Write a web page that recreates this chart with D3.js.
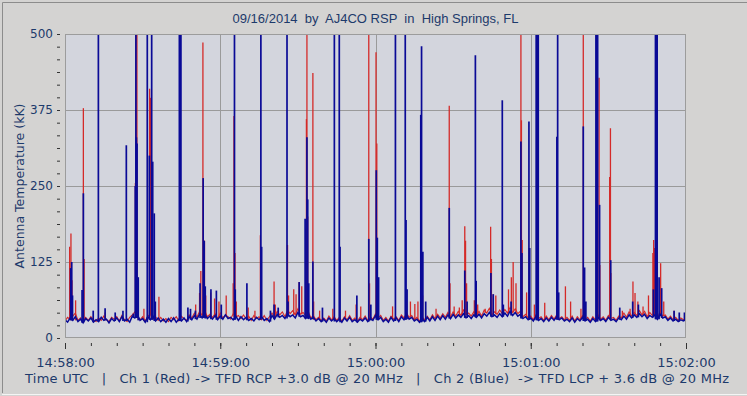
<!DOCTYPE html>
<html>
<head>
<meta charset="utf-8">
<script src="https://cdn.jsdelivr.net/npm/d3@7"></script>
<style>
  body { margin: 0; background: #d4d3d2; }
  svg { display: block; }
</style>
</head>
<body>
<div id="chart"></div>
<script>
'use strict';

var titleText = '09/16/2014  by  AJ4CO RSP  in  High Springs, FL';
var yLabelText = 'Antenna Temperature (kK)';
var footText = 'Time UTC   |   Ch 1 (Red) -> TFD RCP +3.0 dB @ 20 MHz   |   Ch 2 (Blue)  -> TFD LCP + 3.6 dB @ 20 MHz';

// seconds after 14:58:00 UTC
var xTicks = [0, 60, 120, 180, 240];
var xTickLabels = ['14:58:00', '14:59:00', '15:00:00', '15:01:00', '15:02:00'];
var yTicks = [0, 125, 250, 375, 500];

// background level, one reading per second (kK)
var redBase = [
  28,34,30,36,41,29,33,27,34,29,35,30,27,33,29,36,30,27,34,31,
  35,28,37,30,27,34,38,43,36,30,35,28,36,39,31,35,29,34,28,32,
  27,34,30,35,28,36,31,29,38,33,41,34,44,37,45,35,39,34,40,32,
  41,33,38,35,31,40,34,37,32,38,31,36,29,37,32,35,30,37,29,35,
  41,34,44,38,43,35,46,40,45,38,48,39,42,37,44,33,37,30,34,29,
  33,28,36,30,35,29,34,28,35,30,37,29,33,28,34,30,36,29,35,31,
  40,33,37,29,34,28,36,31,35,29,38,33,41,34,37,30,34,28,35,30,
  36,30,38,32,39,33,40,34,42,35,43,36,44,37,46,38,41,36,43,37,
  44,36,46,41,49,38,43,39,46,40,47,41,50,42,48,40,44,35,39,33,
  36,30,38,32,35,29,36,30,37,31,38,32,35,30,34,29,36,28,35,30,
  37,30,34,28,35,30,38,31,35,29,37,32,34,29,36,33,41,34,43,36,
  42,37,45,38,44,35,42,37,41,34,43,36,38,31,36,30,34,29,33,30,
  32
];
var blueBase = [
  30,26,33,29,35,27,31,25,32,28,33,26,30,27,34,29,31,25,32,28,
  33,27,35,28,31,26,36,33,38,29,32,26,35,30,36,28,33,27,31,26,
  32,27,33,26,31,28,33,27,35,30,37,31,39,33,40,32,36,31,37,30,
  36,31,38,32,34,30,36,29,35,30,34,29,32,28,34,30,35,29,32,27,
  37,31,39,34,37,32,40,35,38,33,42,35,37,32,39,31,34,28,32,27,
  31,26,33,28,32,27,31,26,33,28,34,27,30,26,31,28,33,27,32,29,
  37,30,34,27,31,26,34,28,33,27,35,30,38,31,34,28,31,26,32,27,
  34,28,35,29,36,30,37,31,38,32,39,33,38,34,40,33,37,32,38,34,
  39,33,40,36,42,35,38,34,40,35,41,36,44,37,42,36,39,32,35,30,
  33,28,35,29,32,27,33,28,34,29,35,30,33,28,31,27,33,26,32,28,
  34,28,31,26,32,27,34,29,32,27,34,29,31,27,33,30,36,31,38,33,
  38,34,40,35,39,32,37,34,38,31,39,33,35,29,33,28,31,27,30,28,
  30
];

// bursts [second, kK]; values past 500 run off the top of the plot
var redPeaks = [
  [1.8,150],[2.3,172],[2.7,95],[4.1,62],[7.1,378],[7.4,130],[15.5,42],
  [27.2,255],[27.5,620],[27.8,620],[28.3,90],[30.5,48],
  [32.7,410],[33.0,395],[33.3,120],[36.3,68],
  [50.5,55],[52.0,74],[52.5,110],[53.3,486],[53.6,160],[53.9,160],[54.4,70],
  [56.3,75],[57.8,65],[59.5,60],[62.3,70],[65.0,90],[65.3,365],[65.7,140],[66.2,60],
  [70.8,50],[73.4,45],[75.5,169],[75.9,80],
  [80.8,93],[81.3,55],[86.0,153],[86.4,70],[88.4,80],[89.3,72],[90.5,92],[91.5,85],
  [93.0,180],[93.3,360],[93.5,620],[93.8,200],[95.8,436],[96.1,60],[98.4,45],
  [103.5,48],[108.4,45],[112.5,55],[114.3,52],[117.4,620],[117.7,90],
  [120.2,470],[120.5,320],[120.8,80],
  [126.6,52],[133.5,60],[135.2,56],[136.4,60],[138.2,70],[143.4,48],
  [148.5,382],[148.8,90],[150.4,52],[152.4,50],[153.5,62],[154.5,184],[154.8,160],[155.2,90],
  [158.2,62],[159.5,55],[162.4,48],[164.5,183],[164.8,130],[165.5,72],[166.5,70],
  [171.4,80],[172.5,100],[173.2,125],[174.3,90],[176.2,620],[176.4,358],[176.7,161],
  [178.4,75],[179.4,148],[181.4,55],[185.4,58],[193.4,85],[195.4,60],[199.4,48],
  [200.3,620],[200.7,90],[205.5,85],[206.4,428],[206.7,120],
  [210.5,265],[210.8,345],[210.95,107],[215.4,45],[218.4,48],[219.5,93],[220.3,74],
  [221.4,60],[223.4,52],[225.5,70],[227.2,140],[227.5,161],[227.85,148],
  [230.2,123],[231.4,60],[235.4,45]
];
var bluePeaks = [
  [2.2,115],[2.6,125],[2.9,70],[6.6,79],[7.1,238],[10.9,45],[12.9,620],[15.5,49],
  [19.4,42],[22.4,45],[23.7,317],[26.4,40],
  [27.15,250],[27.4,620],[27.6,330],[27.85,320],[28.3,100],
  [31.8,620],[32.6,300],[33.5,620],[33.9,290],[34.5,205],[34.9,60],
  [44.2,620],[44.5,620],[44.8,620],
  [47.5,50],[48.5,48],[50.4,45],[52.2,90],[53.4,263],[53.8,160],[54.2,85],[56.4,80],
  [58.5,78],[60.4,55],[65.5,620],[65.8,80],[70.3,90],[75.7,620],[76.0,150],[79.4,45],
  [80.8,55],[82.4,50],[85.8,620],[86.2,60],[90.5,92],[92.8,196],[93.5,330],[93.8,228],
  [94.2,90],[95.8,126],[99.5,50],[104.1,620],[106.0,620],[106.3,150],[112.8,70],
  [117.4,163],[118.2,55],[120.3,276],[120.7,165],[121.2,100],
  [127.7,620],[131.5,620],[131.8,194],[132.2,80],[137.5,367],[137.8,480],[138.3,142],
  [139.4,60],[148.5,214],[154.5,111],[155.4,60],[158.6,465],[158.9,94],
  [164.6,107],[165.5,72],[169.0,391],[169.4,55],[172.4,60],[176.2,323],[176.6,140],
  [179.3,356],[179.6,148],[182.1,620],[182.5,620],[182.9,620],
  [190.1,331],[190.4,620],[190.8,75],[200.3,348],[200.8,116],[201.3,60],
  [205.2,620],[205.5,620],[205.85,620],[206.6,219],[210.9,128],[214.4,50],
  [219.4,60],[221.6,55],[227.4,80],[228.2,620],[228.5,620],[228.85,620],
  [229.6,100],[230.6,82],[235.4,45],[237.4,42],[239.4,42]
];

var width = 747;
var height = 396;
var area = { left: 65, top: 34, right: 686, bottom: 338 };
var textColor = '#1d3a6b';

var svg = d3.select('#chart')
.append('svg')
  .attr('width', width)
  .attr('height', height);

svg.append('rect')
  .attr('width', width)
  .attr('height', height)
  .attr('fill', '#d4d3d2');

// window frame
svg.append('path')
  .attr('d', 'M2.5,393V2.5H747')
  .attr('fill', 'none')
  .attr('stroke', '#8c8c8c');
svg.append('path')
  .attr('d', 'M2,394.5H747')
  .attr('stroke', '#f4f4f4');

var x = d3.scaleLinear()
  .domain([0, 240])
  .range([area.left, area.right]);

var y = d3.scaleLinear()
  .domain([0, 500])
  .range([area.bottom, area.top]);

svg.append('rect')
  .attr('x', area.left)
  .attr('y', area.top)
  .attr('width', area.right - area.left)
  .attr('height', area.bottom - area.top)
  .attr('fill', '#d3d5dd');

// grid
svg.append('g')
  .selectAll('line')
  .data(yTicks.slice(1, -1))
  .enter().append('line')
    .attr('x1', area.left)
    .attr('x2', area.right)
    .attr('y1', function(d) { return Math.round(y(d)) + 0.5; })
    .attr('y2', function(d) { return Math.round(y(d)) + 0.5; })
    .attr('stroke', '#9a9a9a');

svg.append('g')
  .selectAll('line')
  .data(xTicks.slice(1, -1))
  .enter().append('line')
    .attr('x1', function(d) { return Math.round(x(d)) + 0.5; })
    .attr('x2', function(d) { return Math.round(x(d)) + 0.5; })
    .attr('y1', area.top)
    .attr('y2', area.bottom)
    .attr('stroke', '#9a9a9a');

svg.append('clipPath')
  .attr('id', 'plotClip')
.append('rect')
  .attr('x', area.left)
  .attr('y', area.top)
  .attr('width', area.right - area.left)
  .attr('height', area.bottom - area.top);

var lineGen = d3.line()
  .x(function(d, i) { return x(i); })
  .y(function(d) { return y(d); });

var plot = svg.append('g')
  .attr('clip-path', 'url(#plotClip)');

// a channel = background trace + a thin stem for every burst sample
function drawChannel(base, peaks, color, lw) {
  plot.append('path')
    .datum(base)
    .attr('fill', 'none')
    .attr('stroke', color)
    .attr('stroke-width', lw)
    .attr('d', lineGen);

  plot.append('g')
  .selectAll('line')
  .data(peaks)
  .enter().append('line')
    .attr('x1', function(d) { return x(d[0]); })
    .attr('x2', function(d) { return x(d[0]); })
    .attr('y1', function(d) {
      var lo = Math.min(base[Math.floor(d[0])], base[Math.ceil(d[0])]);
      return y(lo);
    })
    .attr('y2', function(d) { return y(d[1]); })
    .attr('stroke', color)
    .attr('stroke-width', lw + 0.2);
}

drawChannel(redBase, redPeaks, '#d42a28', 1.1);
drawChannel(blueBase, bluePeaks, '#0a0a96', 1.5);

svg.append('rect')
  .attr('x', area.left + 0.5)
  .attr('y', area.top + 0.5)
  .attr('width', area.right - area.left - 1)
  .attr('height', area.bottom - area.top - 1)
  .attr('fill', 'none')
  .attr('stroke', '#9c9c9c');

// x axis: minor ticks every 10 s, major every minute
var xMinor = d3.axisBottom(x)
  .tickValues(d3.range(0, 241, 10))
  .tickSize(3)
  .tickFormat('');

svg.append('g')
  .attr('transform', 'translate(0,343)')
  .call(xMinor)
  .call(function(g) { g.select('.domain').remove(); })
  .selectAll('line').attr('stroke', '#333');

var xAxis = d3.axisBottom(x)
  .tickValues(xTicks)
  .tickSize(6)
  .tickFormat(function(d, i) { return xTickLabels[i]; });

svg.append('g')
  .attr('transform', 'translate(0,343)')
  .call(xAxis)
  .call(function(g) { g.select('.domain').remove(); })
  .call(function(g) { g.selectAll('line').attr('stroke', '#333'); })
  .selectAll('text')
    .attr('y', 24)
    .attr('dy', 0)
    .attr('fill', textColor)
    .style('font-family', 'DejaVu Sans')
    .style('font-size', '13px');

// y axis: six small ticks per labelled step
var yAxis = d3.axisLeft(y)
  .tickValues(d3.range(0, 500.1, 125 / 6))
  .tickSize(3)
  .tickPadding(4)
  .tickFormat(function(d) {
    var r = Math.round(d);
    return yTicks.indexOf(r) >= 0 && Math.abs(d - r) < 1e-6 ? r : '';
  });

svg.append('g')
  .attr('transform', 'translate(60,0)')
  .call(yAxis)
  .call(function(g) { g.select('.domain').remove(); })
  .call(function(g) { g.selectAll('line').attr('stroke', '#333'); })
  .selectAll('text')
    .attr('fill', textColor)
    .style('font-family', 'DejaVu Sans')
    .style('font-size', '12px');

svg.append('text')
  .attr('x', (area.left + area.right) / 2)
  .attr('y', 23)
  .attr('text-anchor', 'middle')
  .attr('fill', textColor)
  .style('white-space', 'pre')
  .style('font-family', 'Liberation Sans')
  .style('font-size', '13px')
  .text(titleText);

svg.append('text')
  .attr('transform', 'translate(24,186) rotate(-90)')
  .attr('text-anchor', 'middle')
  .attr('fill', textColor)
  .style('font-family', 'DejaVu Sans')
  .style('font-size', '12.5px')
  .text(yLabelText);

svg.append('text')
  .attr('x', 25)
  .attr('y', 383)
  .attr('fill', textColor)
  .attr('textLength', 704)
  .attr('lengthAdjust', 'spacing')
  .style('white-space', 'pre')
  .style('font-family', 'DejaVu Sans')
  .style('font-size', '13px')
  .text(footText);
</script>
</body>
</html>
